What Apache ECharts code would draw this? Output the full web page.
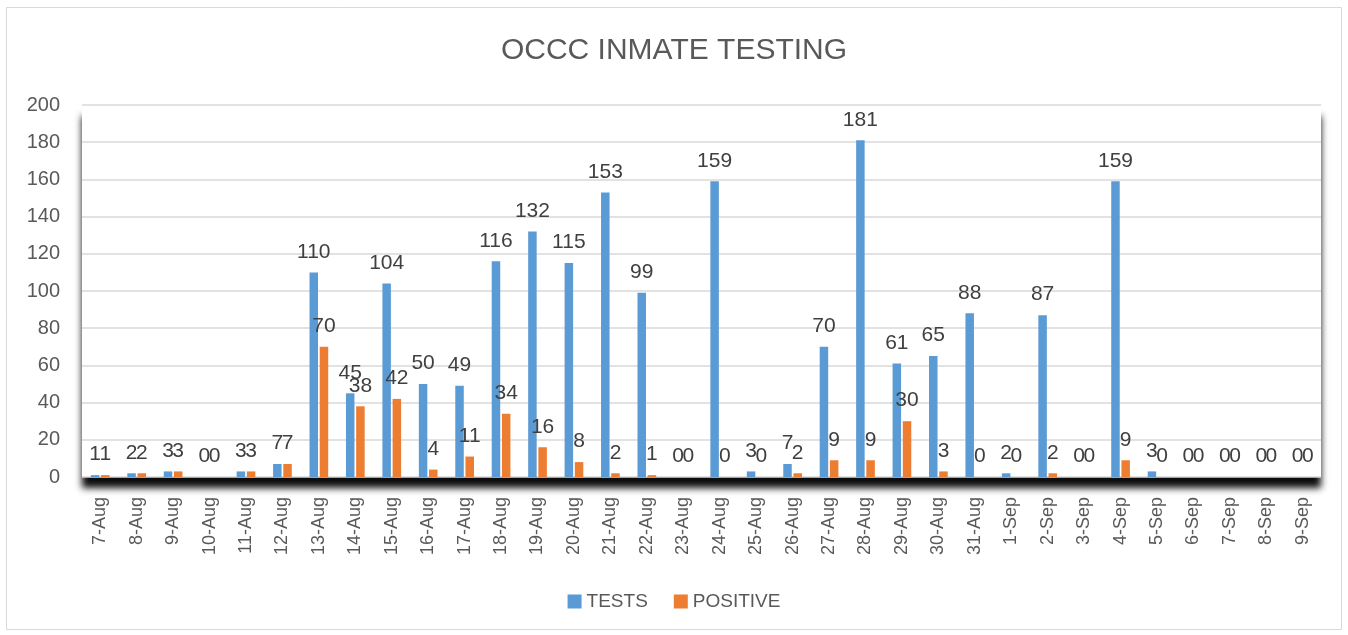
<!DOCTYPE html>
<html>
<head>
<meta charset="utf-8">
<script src="https://cdn.jsdelivr.net/npm/echarts@6/dist/echarts.min.js"></script>
<style>
  html, body { margin: 0; padding: 0; background: #fff; }
  #main { width: 1348px; height: 635px; }
</style>
</head>
<body>
<div id="main"></div>
<script>
const dates = ['7-Aug', '8-Aug', '9-Aug', '10-Aug', '11-Aug', '12-Aug', '13-Aug', '14-Aug', '15-Aug', '16-Aug',
  '17-Aug', '18-Aug', '19-Aug', '20-Aug', '21-Aug', '22-Aug', '23-Aug', '24-Aug', '25-Aug', '26-Aug',
  '27-Aug', '28-Aug', '29-Aug', '30-Aug', '31-Aug', '1-Sep', '2-Sep', '3-Sep', '4-Sep', '5-Sep',
  '6-Sep', '7-Sep', '8-Sep', '9-Sep'];
const tests = [1, 2, 3, 0, 3, 7, 110, 45, 104, 50, 49, 116, 132, 115, 153, 99, 0, 159, 3, 7,
  70, 181, 61, 65, 88, 2, 87, 0, 159, 3, 0, 0, 0, 0];
const positive = [1, 2, 3, 0, 3, 7, 70, 38, 42, 4, 11, 34, 16, 8, 2, 1, 0, 0, 0, 2,
  9, 9, 30, 3, 0, 0, 2, 0, 9, 0, 0, 0, 0, 0];
const yTicks = [0, 200, 20]; // min, max, interval

const chart = echarts.init(document.getElementById('main'));

// label style shared by both series
const barLabel = {
  show: true,
  position: 'top',
  distance: 10,
  fontFamily: 'Liberation Sans',
  fontSize: 21,
  color: '#404040'
};

chart.setOption({
  backgroundColor: '#fff',
  animation: false,
  title: {
    text: 'OCCC INMATE TESTING',
    left: 'center',
    top: 31,
    textStyle: { fontFamily: 'Liberation Sans', fontSize: 30, fontWeight: 'normal', color: '#595959' }
  },
  legend: {
    bottom: 19,
    left: 'center',
    itemWidth: 14,
    itemHeight: 14,
    itemGap: 26,
    icon: 'rect',
    textStyle: { fontFamily: 'Liberation Sans', fontSize: 19, color: '#595959' },
    data: ['TESTS', 'POSITIVE']
  },
  grid: {
    left: 82,
    right: 27,
    top: 105,
    bottom: 158,
    show: true,
    backgroundColor: '#fff',
    borderWidth: 0,
    shadowColor: 'rgba(0,0,0,0.95)',
    shadowBlur: 7,
    shadowOffsetY: 11
  },
  xAxis: {
    type: 'category',
    data: dates,
    axisLine: { show: false },
    axisTick: { show: false },
    axisLabel: {
      rotate: 90,
      interval: 0,
      margin: 20,
      fontFamily: 'Liberation Sans',
      fontSize: 18,
      color: '#595959'
    }
  },
  yAxis: {
    type: 'value',
    min: yTicks[0],
    max: yTicks[1],
    interval: yTicks[2],
    axisLine: { show: false },
    axisTick: { show: false },
    splitLine: { lineStyle: { color: '#d9d9d9', width: 1.5 } },
    axisLabel: {
      margin: 22,
      fontFamily: 'Liberation Sans',
      fontSize: 20,
      color: '#595959'
    }
  },
  series: [
    {
      name: 'TESTS',
      type: 'bar',
      data: tests,
      barWidth: 8.5,
      barGap: '20%',
      itemStyle: { color: '#5B9BD5' },
      label: barLabel
    },
    {
      name: 'POSITIVE',
      type: 'bar',
      data: positive,
      barWidth: 8.5,
      itemStyle: { color: '#ED7D31' },
      label: barLabel
    }
  ],
  graphic: [
    {
      type: 'rect',
      shape: { x: 6.5, y: 7.5, width: 1335, height: 622 },
      style: { fill: 'none', stroke: '#d9d9d9', lineWidth: 1 },
      silent: true
    }
  ]
});
</script>
</body>
</html>
